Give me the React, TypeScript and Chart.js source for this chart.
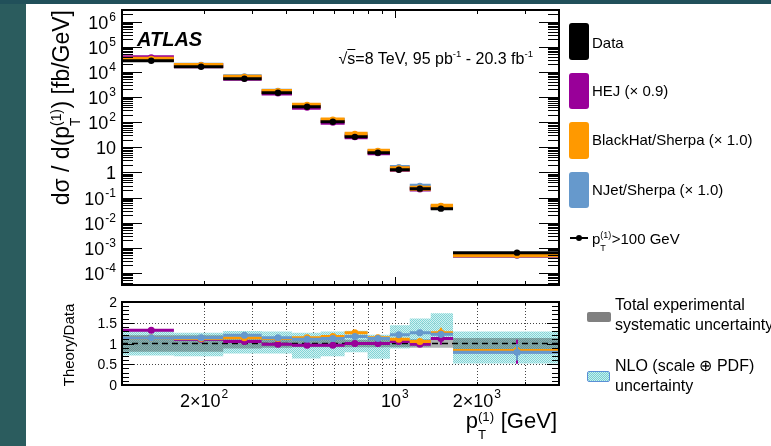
import React, { useEffect, useRef } from 'react';
import { Chart, registerables } from 'chart.js';

Chart.register(...registerables);

// ---------------- data ----------------
const binEdges = [100, 155, 235, 325, 420, 535, 655, 795, 960, 1135, 1355, 1635, 4000];
const binCenters = [128, 195, 281, 373, 477, 593, 714, 867, 1035, 1236, 1476, 2806];
const dataXsec = [27700, 16000, 5330, 1480, 410, 104, 26, 6.1, 1.28, 0.225, 0.036, 0.00064];

const hejRatio = [1.32, 1.1, 1.05, 0.98, 0.96, 0.96, 1.0, 1.0, 1.05, 0.98, 1.12, 0.8];
const hejErr = [0.02, 0.02, 0.02, 0.02, 0.02, 0.02, 0.02, 0.03, 0.03, 0.04, 0.15, 0.29];
const bhRatio = [1.14, 1.12, 1.14, 1.12, 1.14, 1.17, 1.26, 1.14, 1.1, 1.05, 1.26, 0.83];
const bhErr = [0.02, 0.02, 0.02, 0.02, 0.02, 0.02, 0.03, 0.03, 0.03, 0.04, 0.12, 0.12];
const njRatio = [1.14, 1.14, 1.2, 1.14, 1.1, 1.12, 1.17, 1.12, 1.21, 1.26, 1.22, 0.79];
const njErr = [0.02, 0.02, 0.02, 0.02, 0.02, 0.02, 0.03, 0.03, 0.03, 0.05, 0.08, 0.2];

const nloLow = [0.71, 0.69, 0.76, 0.76, 0.64, 0.69, 0.79, 0.63, 0.88, 0.93, 1.12, 0.52];
const nloHigh = [1.3, 1.26, 1.3, 1.29, 1.26, 1.29, 1.31, 1.21, 1.44, 1.6, 1.73, 1.29];
const sysErr = [0.2, 0.2, 0.12, 0.1, 0.09, 0.09, 0.09, 0.09, 0.09, 0.1, 0.1, 0.13];

const yTickValues = [1e-4, 1e-3, 1e-2, 1e-1, 1, 10, 1e2, 1e3, 1e4, 1e5, 1e6];
const yTickLabels = ['10^-4', '10^-3', '10^-2', '10^-1', '1', '10', '10^2', '10^3', '10^4', '10^5', '10^6'];
const xTickValues = [200, 300, 400, 500, 600, 700, 800, 900, 1000, 2000, 3000];
const xLabelValues = [200, 1000, 2000];
const xTickLabels = ['2×10^2', '10^3', '2×10^3'];
const ratioTickValues = [0, 0.5, 1, 1.5, 2];
const ratioTickLabels = ['0', '0.5', '1', '1.5', '2'];

// ---------------- style ----------------
const FONT = '"Liberation Sans", Arial, Helvetica, sans-serif';
const MAG = '#990099';
const ORANGE = '#ff9900';
const BLUE = '#6699cc';

const segs = (vals: number[]) => {
  const out: any[] = [];
  vals.forEach((v, i) => {
    out.push({ x: binEdges[i], y: v }, { x: binEdges[i + 1], y: v }, { x: binEdges[i + 1], y: null });
  });
  return out;
};
const steps = (vals: number[]) => {
  const out: any[] = [];
  vals.forEach((v, i) => {
    out.push({ x: binEdges[i], y: v }, { x: binEdges[i + 1], y: v });
  });
  return out;
};
const pts = (vals: number[]) => vals.map((v, i) => ({ x: binCenters[i], y: v }));
const errs = (vals: number[], e: number[]) => {
  const out: any[] = [];
  vals.forEach((v, i) => {
    out.push({ x: binCenters[i], y: v - e[i] }, { x: binCenters[i], y: v + e[i] }, { x: binCenters[i], y: null });
  });
  return out;
};

const segDs = (data: any[], color: string, w: number, extra: any = {}) => ({
  data, borderColor: color, borderWidth: w, pointRadius: 0, fill: false, borderCapStyle: 'butt', spanGaps: false, ...extra,
});
const ptDs = (data: any[], color: string, r: number) => ({
  data, showLine: false, pointRadius: r, pointBackgroundColor: color, pointBorderColor: color, pointBorderWidth: 0, borderColor: color,
});
const stack = (list: any[]) => list.map((d, i) => ({ ...d, order: list.length - i }));

function drawLabel(ctx: CanvasRenderingContext2D, text: string, x: number, baseline: number, align: 'right' | 'center', fs: number, efs: number, raise: number) {
  const [base, exp] = text.split('^');
  ctx.font = `${fs}px ${FONT}`;
  const wb = ctx.measureText(base).width;
  ctx.font = `${efs}px ${FONT}`;
  const we = exp ? ctx.measureText(exp).width + 1 : 0;
  const total = wb + we;
  const x0 = align === 'right' ? x - total : x - total / 2;
  ctx.textAlign = 'left';
  ctx.textBaseline = 'alphabetic';
  ctx.font = `${fs}px ${FONT}`;
  ctx.fillText(base, x0, baseline);
  if (exp) {
    ctx.font = `${efs}px ${FONT}`;
    ctx.fillText(exp, x0 + wb + 1, baseline - raise);
  }
}

function hline(ctx: CanvasRenderingContext2D, x1: number, y: number, x2: number) {
  ctx.beginPath(); ctx.moveTo(x1, y); ctx.lineTo(x2, y); ctx.stroke();
}
function vline(ctx: CanvasRenderingContext2D, x: number, y1: number, y2: number) {
  ctx.beginPath(); ctx.moveTo(x, y1); ctx.lineTo(x, y2); ctx.stroke();
}

const upperPlugin = {
  id: 'upperFrame',
  afterDraw(chart: any) {
    const { ctx, chartArea, scales } = chart;
    const { left, right, top, bottom } = chartArea;
    const x = scales.x, y = scales.y;
    ctx.save();
    ctx.strokeStyle = '#000';
    ctx.lineWidth = 1;
    for (let k = -5; k <= 6; k++) {
      for (let m = 1; m <= 9; m++) {
        const v = m * Math.pow(10, k);
        if (v < y.min || v > y.max) continue;
        const py = Math.round(y.getPixelForValue(v)) + 0.5;
        const len = m === 1 ? 20 : 11;
        hline(ctx, left, py, left + len);
        hline(ctx, right, py, right - len);
      }
    }
    xTickValues.forEach((v) => {
      const px = Math.round(x.getPixelForValue(v)) + 0.5;
      const len = v === 1000 ? 8 : 4;
      vline(ctx, px, bottom, bottom - len);
      vline(ctx, px, top, top + len);
    });
    ctx.lineWidth = 2;
    ctx.strokeRect(left, top, right - left, bottom - top);
    ctx.fillStyle = '#000';
    yTickValues.forEach((v, i) => {
      const py = y.getPixelForValue(v);
      drawLabel(ctx, yTickLabels[i], 116, py + 7, 'right', 18, 12, 8);
    });
    ctx.restore();
  },
};

const ratioPlugin = {
  id: 'ratioFrame',
  beforeDatasetsDraw(chart: any) {
    const { ctx, chartArea, scales } = chart;
    const { left, right, top, bottom } = chartArea;
    ctx.save();
    ctx.strokeStyle = '#444';
    ctx.lineWidth = 1;
    ctx.setLineDash([1, 2]);
    xTickValues.forEach((v) => {
      const px = Math.round(scales.x.getPixelForValue(v)) + 0.5;
      vline(ctx, px, top, bottom);
    });
    [0.5, 1.5].forEach((v) => {
      const py = Math.round(scales.y.getPixelForValue(v)) + 0.5;
      hline(ctx, left, py, right);
    });
    ctx.restore();
  },
  afterDraw(chart: any) {
    const { ctx, chartArea, scales } = chart;
    const { left, right, top, bottom } = chartArea;
    const x = scales.x, y = scales.y;
    ctx.save();
    ctx.strokeStyle = '#000';
    ctx.lineWidth = 1;
    for (let i = 0; i <= 20; i++) {
      const v = i * 0.1;
      const py = Math.round(y.getPixelForValue(v)) + 0.5;
      const len = i % 5 === 0 ? 12 : 7;
      hline(ctx, left, py, left + len);
      hline(ctx, right, py, right - len);
    }
    xTickValues.forEach((v) => {
      const px = Math.round(x.getPixelForValue(v)) + 0.5;
      const len = v === 1000 ? 6 : 3;
      vline(ctx, px, bottom, bottom - len);
      vline(ctx, px, top, top + len);
    });
    ctx.lineWidth = 2;
    ctx.strokeRect(left, top, right - left, bottom - top);
    ctx.fillStyle = '#000';
    ratioTickValues.forEach((v, i) => {
      const py = y.getPixelForValue(v);
      drawLabel(ctx, ratioTickLabels[i], 117, py + 5, 'right', 14, 10, 6);
    });
    xLabelValues.forEach((v, i) => {
      const px = x.getPixelForValue(v);
      drawLabel(ctx, xTickLabels[i], px, 407, 'center', 18, 12, 9);
    });
    ctx.restore();
  },
};

const Pt = () => (
  <span>
    p
    <span style={{ position: 'relative', display: 'inline-block', width: '0.76em', height: '0.7em' }}>
      <span style={{ position: 'absolute', left: 0, top: '-0.23em', fontSize: '0.6em', lineHeight: 1 }}>(1)</span>
      <span style={{ position: 'absolute', left: 0, top: '1.15em', fontSize: '0.6em', lineHeight: 1 }}>T</span>
    </span>
  </span>
);

const Sup = ({ children }: { children: any }) => (
  <span style={{ fontSize: '0.6em', position: 'relative', top: '-0.75em' }}>{children}</span>
);

export default function App() {
  const upperRef = useRef<HTMLCanvasElement>(null);
  const ratioRef = useRef<HTMLCanvasElement>(null);

  useEffect(() => {
    const uc = upperRef.current!;
    const rc = ratioRef.current!;

    const hejX = dataXsec.map((d, i) => d * hejRatio[i]);
    const bhX = dataXsec.map((d, i) => d * bhRatio[i]);
    const njX = dataXsec.map((d, i) => d * njRatio[i]);

    const upper = new Chart(uc, {
      type: 'line',
      data: {
        datasets: stack([
          segDs(segs(njX), BLUE, 5),
          ptDs(pts(njX), BLUE, 3.5),
          segDs(segs(hejX), MAG, 5),
          ptDs(pts(hejX), MAG, 3.5),
          segDs(segs(bhX), ORANGE, 5),
          ptDs(pts(bhX), ORANGE, 3.5),
          segDs(segs(dataXsec), '#000', 3),
          ptDs(pts(dataXsec), '#000', 3.2),
        ]),
      },
      options: {
        animation: false,
        responsive: false,
        devicePixelRatio: 1,
        events: [],
        layout: { padding: { left: 122, top: 10, right: 212, bottom: 161 } },
        plugins: { legend: { display: false }, tooltip: { enabled: false } },
        scales: {
          x: { type: 'logarithmic', min: 100, max: 4000, display: false },
          y: { type: 'logarithmic', min: 3.3e-5, max: 2.9e6, display: false },
        },
      } as any,
      plugins: [upperPlugin],
    });

    const pc = document.createElement('canvas');
    pc.width = 2; pc.height = 2;
    const pctx = pc.getContext('2d')!;
    pctx.fillStyle = 'rgba(200,238,238,0.85)';
    pctx.fillRect(0, 0, 2, 2);
    pctx.fillStyle = 'rgba(118,208,210,0.85)';
    pctx.fillRect(0, 0, 1, 1);
    pctx.fillRect(1, 1, 1, 1);
    const pattern = rc.getContext('2d')!.createPattern(pc, 'repeat');

    const sysLow = sysErr.map((e) => 1 - e);
    const sysHigh = sysErr.map((e) => 1 + e);

    const ratio = new Chart(rc, {
      type: 'line',
      data: {
        datasets: stack([
          segDs(steps(nloLow), 'rgba(0,0,0,0)', 0),
          segDs(steps(nloHigh), 'rgba(0,0,0,0)', 0, { fill: '-1', backgroundColor: pattern }),
          segDs(steps(sysLow), 'rgba(0,0,0,0)', 0),
          segDs(steps(sysHigh), 'rgba(0,0,0,0)', 0, { fill: '-1', backgroundColor: 'rgba(55,65,65,0.4)' }),
          segDs([{ x: 100, y: 1 }, { x: 4000, y: 1 }], '#000', 1.5, { borderDash: [6, 4] }),
          segDs(segs(hejRatio), MAG, 3),
          segDs(errs(hejRatio, hejErr), MAG, 2),
          ptDs(pts(hejRatio), MAG, 3.5),
          segDs(segs(bhRatio), ORANGE, 3),
          segDs(errs(bhRatio, bhErr), ORANGE, 2),
          ptDs(pts(bhRatio), ORANGE, 3.5),
          segDs(segs(njRatio), BLUE, 3),
          segDs(errs(njRatio, njErr), BLUE, 2),
          ptDs(pts(njRatio), BLUE, 3.5),
        ]),
      },
      options: {
        animation: false,
        responsive: false,
        devicePixelRatio: 1,
        events: [],
        layout: { padding: { left: 122, top: 302, right: 212, bottom: 61 } },
        plugins: { legend: { display: false }, tooltip: { enabled: false } },
        scales: {
          x: { type: 'logarithmic', min: 100, max: 4000, display: false },
          y: { type: 'linear', min: 0, max: 2, display: false },
        },
      } as any,
      plugins: [ratioPlugin],
    });

    return () => {
      upper.destroy();
      ratio.destroy();
    };
  }, []);

  const abs = (s: any) => ({ position: 'absolute' as const, fontFamily: FONT, whiteSpace: 'nowrap' as const, color: '#000', ...s });
  const swatch = (top: number, height: number, left: number, width: number, bg: string, extra: any = {}) => (
    <div style={{ position: 'absolute', left, top, width, height, background: bg, borderRadius: 3, ...extra }} />
  );

  return (
    <div style={{ position: 'fixed', left: 0, top: 0, width: 771, height: 446, background: '#2b5c5e', overflow: 'hidden' }}>
      <div style={{ position: 'absolute', left: 0, top: 0, width: 771, height: 4, background: '#21505a' }} />
      <div style={{ position: 'absolute', left: 26, top: 4, width: 745, height: 442, background: '#fff' }} />
      <canvas ref={upperRef} width={771} height={446} style={{ position: 'absolute', left: 0, top: 0 }} />
      <canvas ref={ratioRef} width={771} height={446} style={{ position: 'absolute', left: 0, top: 0 }} />

      {/* ATLAS label and energy */}
      <div style={abs({ left: 137, top: 29, fontSize: 20, lineHeight: '20px', fontWeight: 'bold', fontStyle: 'italic' })}>ATLAS</div>
      <div style={abs({ right: 238, top: 51, fontSize: 16, lineHeight: '16px' })}>
        √<span style={{ textDecoration: 'overline' }}>s</span>=8 TeV, 95 pb<Sup>-1</Sup> - 20.3 fb<Sup>-1</Sup>
      </div>

      {/* axis titles */}
      <div style={abs({ left: 50, top: 210, width: 200, textAlign: 'right', transformOrigin: '0 0', transform: 'rotate(-90deg)', fontSize: 23, lineHeight: '23px' })}>
        dσ / d(<Pt />) [fb/GeV]
      </div>
      <div style={abs({ left: 61, top: 405, width: 120, textAlign: 'center', transformOrigin: '0 0', transform: 'rotate(-90deg)', fontSize: 15, lineHeight: '15px' })}>
        Theory/Data
      </div>
      <div style={abs({ right: 214, top: 410, fontSize: 22, lineHeight: '22px' })}>
        <Pt /> [GeV]
      </div>

      {/* legend upper */}
      {swatch(23, 37, 569, 20, '#000')}
      {swatch(73, 36, 569, 20, MAG)}
      {swatch(122, 37, 569, 20, ORANGE)}
      {swatch(172, 36, 569, 20, BLUE)}
      <div style={abs({ left: 592, top: 35, fontSize: 15, lineHeight: '15px' })}>Data</div>
      <div style={abs({ left: 592, top: 83, fontSize: 15, lineHeight: '15px' })}>HEJ (× 0.9)</div>
      <div style={abs({ left: 592, top: 132, fontSize: 15, lineHeight: '15px' })}>BlackHat/Sherpa (× 1.0)</div>
      <div style={abs({ left: 592, top: 182, fontSize: 15, lineHeight: '15px' })}>NJet/Sherpa (× 1.0)</div>
      <div style={{ position: 'absolute', left: 570, top: 237, width: 18, height: 2, background: '#000' }} />
      <div style={{ position: 'absolute', left: 576, top: 235, width: 6, height: 6, borderRadius: 3, background: '#000' }} />
      <div style={abs({ left: 592, top: 231, fontSize: 15, lineHeight: '15px' })}>
        <Pt />&gt;100 GeV
      </div>

      {/* legend ratio */}
      {swatch(312, 10, 587, 24, '#808080', { borderRadius: 2 })}
      <div style={{
        position: 'absolute', left: 587, top: 371, width: 21, height: 9, borderRadius: 2,
        border: '1.5px solid #5b8fd6',
        background: 'repeating-conic-gradient(rgb(118,208,210) 0 25%, rgb(200,238,238) 0 50%) 0 0 / 2px 2px',
      }} />
      <div style={abs({ left: 615, top: 297, fontSize: 16, lineHeight: '16px' })}>Total experimental</div>
      <div style={abs({ left: 615, top: 317, fontSize: 16, lineHeight: '16px' })}>systematic uncertainty</div>
      <div style={abs({ left: 615, top: 358, fontSize: 16, lineHeight: '16px' })}>NLO (scale ⊕ PDF)</div>
      <div style={abs({ left: 615, top: 378, fontSize: 16, lineHeight: '16px' })}>uncertainty</div>
    </div>
  );
}
